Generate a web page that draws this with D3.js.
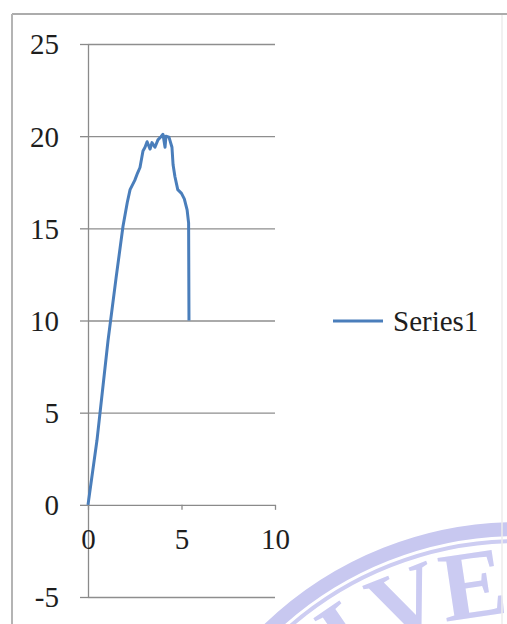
<!DOCTYPE html>
<html>
<head>
<meta charset="utf-8">
<script src="https://cdn.jsdelivr.net/npm/d3@7/dist/d3.min.js"></script>
<style>
  html, body { margin: 0; padding: 0; background: #ffffff; }
  svg { display: block; }
  text { font-family: "Liberation Serif", "Times New Roman", serif; }
</style>
</head>
<body>
<script>
// Stress–strain style curve (Series1)
const seriesName = "Series1";
const xValues = [0, 0.48, 1.07, 1.5, 1.87, 2.1, 2.25, 2.5, 2.65, 2.78, 2.94, 3.05, 3.16, 3.32, 3.42, 3.58, 3.74, 3.9, 4.01, 4.12, 4.17, 4.33, 4.49, 4.55, 4.65, 4.8, 5.0, 5.15, 5.3, 5.38, 5.4];
const yValues = [0, 3.5, 8.9, 12.3, 15.1, 16.4, 17.1, 17.6, 18.0, 18.3, 19.2, 19.4, 19.7, 19.3, 19.65, 19.4, 19.8, 19.97, 20.1, 19.4, 20.0, 19.95, 19.4, 18.45, 17.8, 17.1, 16.9, 16.6, 16.0, 15.3, 10.0];

const xTicks = [0, 5, 10];
const yTicks = [-5, 0, 5, 10, 15, 20, 25];
const watermarkLetters = ["N", "I", "V", "E"];

const W = 507, H = 624;
const FONT = "Liberation Serif, Times New Roman, serif";
const svg = d3.select("body").append("svg").attr("width", W).attr("height", H);

// faint seal watermark in the lower right corner
const seal = svg.append("g").attr("fill", "none");
const cx = 518, cy = 888;
seal.append("circle").attr("cx", cx).attr("cy", cy).attr("r", 359)
  .attr("stroke", "#c8c8f0").attr("stroke-width", 14);
seal.append("circle").attr("cx", cx).attr("cy", cy).attr("r", 347)
  .attr("stroke", "#cdcdf2").attr("stroke-width", 4);
const letterAngles = [-137, -124.5, -111.5, -98.5];
seal.selectAll("text.wm").data(watermarkLetters).join("text")
  .attr("class", "wm")
  .attr("transform", (d, i) => {
    const a = letterAngles[i] * Math.PI / 180, r = 274;
    return `translate(${cx + r * Math.cos(a)},${cy + r * Math.sin(a)}) rotate(${letterAngles[i] + 90})`;
  })
  .attr("text-anchor", "middle")
  .attr("font-family", FONT)
  .attr("font-weight", "bold")
  .attr("font-size", 98)
  .attr("fill", "#cbcbf2")
  .text(d => d);

// chart area frame
svg.append("line").attr("x1", 12).attr("x2", W).attr("y1", 14).attr("y2", 14)
  .attr("stroke", "#acacac").attr("stroke-width", 2);
svg.append("line").attr("x1", 12).attr("x2", 12).attr("y1", 14).attr("y2", H)
  .attr("stroke", "#b4b4b4").attr("stroke-width", 2);
svg.append("line").attr("x1", 502).attr("x2", 502).attr("y1", 15).attr("y2", H)
  .attr("stroke", "#ececec").attr("stroke-width", 1.5);

const x = d3.scaleLinear().domain([0, 10]).range([88, 275]);
const y = d3.scaleLinear().domain([-5, 25]).range([597, 44]);
const plainNumber = d => String(d);

// horizontal gridlines
svg.append("g")
  .attr("transform", `translate(${x(0)},0)`)
  .call(d3.axisLeft(y).tickValues(yTicks.filter(v => v !== 0))
    .tickSize(-(x(10) - x(0))).tickSizeOuter(0).tickFormat(""))
  .call(g => g.select(".domain").remove())
  .call(g => g.selectAll(".tick line").attr("stroke", "#8e8e8e").attr("stroke-width", 1.3));

// y axis
svg.append("g")
  .attr("transform", `translate(${x(0)},0)`)
  .call(d3.axisLeft(y).tickValues(yTicks).tickFormat(plainNumber)
    .tickSize(8).tickSizeOuter(0).tickPadding(21))
  .attr("font-family", FONT)
  .call(g => g.select(".domain").attr("stroke", "#8a8a8a").attr("stroke-width", 1.3))
  .call(g => g.selectAll(".tick line").attr("stroke", "#8a8a8a").attr("stroke-width", 1.3))
  .call(g => g.selectAll(".tick text")
    .attr("font-family", FONT)
    .attr("font-size", 29).attr("fill", "#1e1e1e").attr("dy", "0.34em"));

// x axis crossing at y = 0
svg.append("g")
  .attr("transform", `translate(0,${y(0)})`)
  .call(d3.axisBottom(x).tickValues(xTicks).tickFormat(plainNumber)
    .tickSize(5).tickSizeOuter(0).tickPadding(19))
  .attr("font-family", FONT)
  .call(g => g.select(".domain").attr("stroke", "#8a8a8a").attr("stroke-width", 1.3))
  .call(g => g.selectAll(".tick line").attr("stroke", "#8a8a8a").attr("stroke-width", 1.3))
  .call(g => g.selectAll(".tick text")
    .attr("font-family", FONT)
    .attr("font-size", 29).attr("fill", "#1e1e1e"));

// series line
const pts = xValues.map((v, i) => [v, yValues[i]]);
svg.append("path")
  .datum(pts)
  .attr("fill", "none")
  .attr("stroke", "#4a7ebb")
  .attr("stroke-width", 3)
  .attr("stroke-linejoin", "round")
  .attr("d", d3.line().x(d => x(d[0])).y(d => y(d[1])));

// legend
const leg = svg.append("g").attr("transform", "translate(333,321)");
leg.append("line").attr("x1", 0).attr("x2", 50).attr("y1", 0).attr("y2", 0)
  .attr("stroke", "#4a7ebb").attr("stroke-width", 3);
leg.append("text").attr("x", 60).attr("y", 0).attr("dy", "0.34em")
  .attr("font-family", FONT)
  .attr("font-size", 29).attr("fill", "#1e1e1e").text(seriesName);
</script>
</body>
</html>
